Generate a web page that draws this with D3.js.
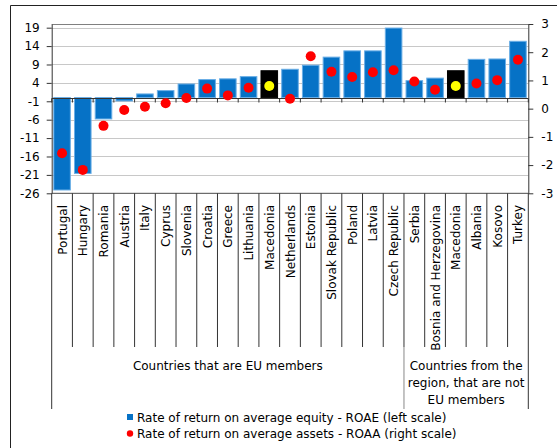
<!DOCTYPE html>
<html><head><meta charset="utf-8">
<script src="https://cdn.jsdelivr.net/npm/d3@7"></script>
<style>
html,body{margin:0;padding:0;background:#fff;}
svg{display:block;}
text{font-family:"DejaVu Sans",sans-serif;font-size:12px;fill:#000;}
</style></head>
<body>
<svg id="c" width="557" height="448"></svg>
<script>
const categories = ["Portugal","Hungary","Romania","Austria","Italy","Cyprus","Slovenia","Croatia","Greece","Lithuania","Macedonia","Netherlands","Estonia","Slovak Republic","Poland","Latvia","Czech Republic","Serbia","Bosnia and Herzegovina","Macedonia","Albania","Kosovo","Turkey"];
const roae = [-25.1,-20.6,-5.8,-0.9,1.0,1.9,3.7,4.9,5.1,5.7,7.3,7.7,8.8,11.0,12.7,12.7,18.9,4.6,5.3,7.3,10.4,10.5,15.3];
const roaa = [-1.58,-2.17,-0.61,-0.05,0.07,0.19,0.38,0.71,0.47,0.74,0.80,0.35,1.86,1.31,1.12,1.29,1.36,0.96,0.67,0.80,0.89,1.01,1.73];
const highlight = [10,19];
const groups = [{label:["Countries that are EU members"], start:0, end:17},{label:["Countries from the","region, that are not","EU members"], start:17, end:23}];
const leftTicks = [-26,-21,-16,-11,-6,-1,4,9,14,19];
const rightTicks = [-3,-2,-1,0,1,2,3];
const legendLabels = ["Rate of return on average equity - ROAE (left scale)","Rate of return on average assets - ROAA (right scale)"];

const svg = d3.select("#c");
const L = 51.7, R = 528.3, T = 24, B = 193.3;
const x = d3.scaleBand().domain(d3.range(categories.length)).range([L,R]).paddingInner(0.2).paddingOuter(0.1);
const yL = d3.scaleLinear().domain([-26,20]).range([B,T]);
const yR = d3.scaleLinear().domain([-3,3]).range([B,T]);
const step = x.step();
const edge = i => L + i*step;
const fmt = d => String(d);

// outer frame
svg.append("path").attr("d","M10.5,448V5.5H557").attr("fill","none").attr("stroke","#222").attr("stroke-width",1);

// gridlines
svg.append("g").selectAll("line").data(leftTicks).join("line")
  .attr("x1",L).attr("x2",R).attr("y1",d=>Math.round(yL(d))+0.5).attr("y2",d=>Math.round(yL(d))+0.5)
  .attr("stroke","#c8c8c8");
// plot top border
svg.append("line").attr("x1",L).attr("x2",R).attr("y1",T+0.5).attr("y2",T+0.5).attr("stroke","#808080");

// bars
svg.append("g").selectAll("rect").data(roae).join("rect")
  .attr("x",(d,i)=>x(i)).attr("width",x.bandwidth())
  .attr("y",d=>yL(Math.max(0,d))).attr("height",d=>Math.abs(yL(d)-yL(0)))
  .attr("fill",(d,i)=>highlight.includes(i)?"#000":"#0672c6")
  .attr("stroke",(d,i)=>highlight.includes(i)?"#000":"#6aaee6").attr("stroke-width",1);

// category axis at zero
const y0 = Math.round(yL(0))+0.5;
svg.append("line").attr("x1",L).attr("x2",R).attr("y1",y0).attr("y2",y0).attr("stroke","#333");
svg.append("g").selectAll("line").data(d3.range(categories.length+1)).join("line")
  .attr("x1",d=>edge(d)).attr("x2",d=>edge(d)).attr("y1",y0).attr("y2",y0+4).attr("stroke","#333");

// left axis
const ga = svg.append("g").attr("transform",`translate(${L},0)`)
  .call(d3.axisLeft(yL).tickValues(leftTicks).tickSize(5).tickSizeOuter(0).tickPadding(7).tickFormat(fmt));
ga.select(".domain").attr("stroke","#333");
ga.selectAll(".tick line").attr("stroke","#333");
ga.selectAll("text").attr("font-size",12).attr("font-family",null);
// right axis
const gr = svg.append("g").attr("transform",`translate(${R},0)`)
  .call(d3.axisRight(yR).tickValues(rightTicks).tickSize(5).tickSizeOuter(0).tickPadding(8).tickFormat(fmt));
gr.select(".domain").attr("stroke","#333");
gr.selectAll(".tick line").attr("stroke","#333");
gr.selectAll("text").attr("font-size",12).attr("font-family",null);

// bottom line
svg.append("line").attr("x1",L).attr("x2",R).attr("y1",B).attr("y2",B).attr("stroke","#555");

// dots
svg.append("g").selectAll("circle").data(roaa).join("circle")
  .attr("cx",(d,i)=>x(i)+x.bandwidth()/2).attr("cy",d=>yR(d)).attr("r",5)
  .attr("fill",(d,i)=>highlight.includes(i)?"#ffff00":"#ff0000");

// category labels
svg.append("g").selectAll("text").data(categories).join("text")
  .attr("transform",(d,i)=>`translate(${x(i)+x.bandwidth()/2+4.5},205) rotate(-90)`)
  .attr("text-anchor","end").text(d=>d);

// dividers
svg.append("g").selectAll("line").data(d3.range(categories.length+1)).join("line")
  .attr("x1",d=>edge(d)).attr("x2",d=>edge(d)).attr("y1",B).attr("y2",347).attr("stroke","#333");
const gEdges = [0,17,23];
svg.append("g").selectAll("line").data(gEdges).join("line")
  .attr("x1",d=>edge(d)).attr("x2",d=>edge(d)).attr("y1",347).attr("y2",409)
  .attr("stroke",(d,i)=>i===1?"#888":"#333");

// group labels
groups.forEach(g=>{
  const cx = (edge(g.start)+edge(g.end))/2;
  const t = svg.append("text").attr("text-anchor","middle");
  g.label.forEach((l,k)=>t.append("tspan").attr("x",cx).attr("y",370+k*17).text(l));
});

// legend
svg.append("rect").attr("x",127).attr("y",414).attr("width",6).attr("height",6).attr("fill","#0672c6");
svg.append("circle").attr("cx",130).attr("cy",433.5).attr("r",3.2).attr("fill","#ff0000");
svg.append("text").attr("x",137).attr("y",421.5).text(legendLabels[0]);
svg.append("text").attr("x",137).attr("y",437.5).text(legendLabels[1]);
</script>
</body></html>
